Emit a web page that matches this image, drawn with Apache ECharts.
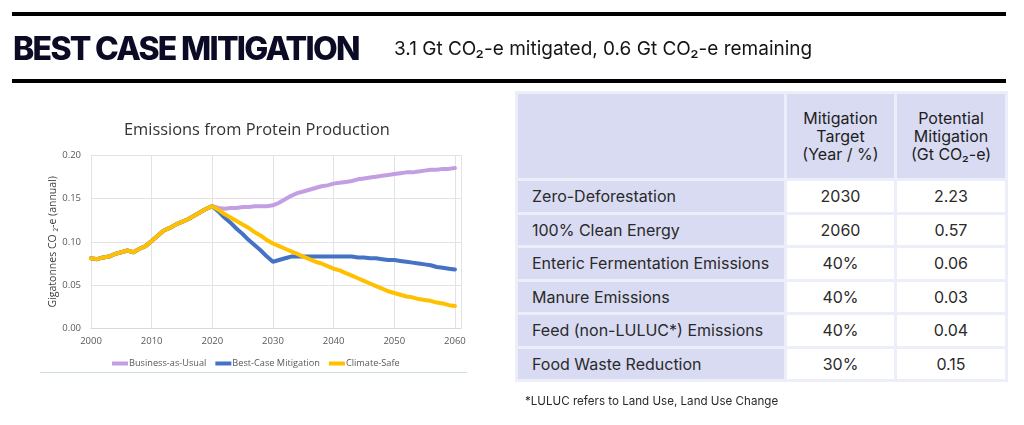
<!DOCTYPE html>
<html>
<head>
<meta charset="utf-8">
<script src="https://cdn.jsdelivr.net/npm/echarts@6/dist/echarts.min.js"></script>
<style>
  html, body { margin:0; padding:0; background:#fff; width:1024px; height:425px; overflow:hidden; }
  #chart { position:absolute; left:0; top:0; width:1024px; height:425px; }
  .rule { position:absolute; left:12px; width:994px; height:4px; background:#000; }
  #title { position:absolute; left:13px; top:29px; font-family:Inter, sans-serif; font-weight:800; font-size:32px; color:#0b0b25; letter-spacing:-1.7px; white-space:nowrap; }
  #subtitle { position:absolute; left:394px; top:37px; font-family:Inter, sans-serif; font-weight:400; font-size:19px; color:#151515; white-space:nowrap; }
  #tbl { position:absolute; left:515px; top:91px; border-collapse:separate; border-spacing:3px; background:#eceefa; font-family:Inter, sans-serif; color:#2a2a2a; }
  #tbl td, #tbl th { padding:0; font-weight:400; font-size:16px; }
  #tbl th { background:#d9dbf2; height:84px; line-height:18px; text-align:center; vertical-align:middle; color:#1e1e1e; }
  #tbl td { height:30.5px; line-height:18px; background:#fff; text-align:center; }
  #tbl td.lab { background:#d9dbf2; text-align:left; padding-left:14px; }
  #foot { position:absolute; left:525px; top:394px; font-family:Inter, sans-serif; font-size:11.6px; color:#2a2a2a; white-space:nowrap; }
  #frame { position:absolute; left:40px; top:372px; width:427px; height:1px; background:#cfe0d4; }
</style>
</head>
<body>
<div id="chart"></div>
<div class="rule" style="top:12px"></div>
<div class="rule" style="top:79px"></div>
<div id="title"></div>
<div id="subtitle"></div>
<table id="tbl"></table>
<div id="foot"></div>
<div id="frame"></div>
<script>
// ---------------- data ----------------
const pageTitle = 'BEST CASE MITIGATION';
const pageSubtitle = '3.1 Gt CO₂-e mitigated, 0.6 Gt CO₂-e remaining';
const chartTitle = 'Emissions from Protein Production';
const yAxisName = 'Gigatonnes CO ₂-e (annual)';
const seriesNames = ['Business-as-Usual', 'Best-Case Mitigation', 'Climate-Safe'];
const seriesColors = ['#c49ee3', '#4472c4', '#ffc000'];

const firstYear = 2000;
const lastYear = 2060;
const xTicks = [2000, 2010, 2020, 2030, 2040, 2050, 2060];
const yTicks = [0.00, 0.05, 0.10, 0.15, 0.20];

// shared history 2000-2020
const history = [0.081,0.080,0.082,0.083,0.086,0.088,0.090,0.088,0.092,0.095,
                 0.101,0.107,0.113,0.116,0.120,0.123,0.126,0.130,0.134,0.138,0.141];
// projections 2021-2060
const bauFuture = [0.139,0.138,0.139,0.139,0.140,0.140,0.141,0.141,0.141,0.142,
                   0.145,0.149,0.153,0.156,0.158,0.160,0.162,0.164,0.165,0.167,
                   0.168,0.169,0.170,0.172,0.173,0.174,0.175,0.176,0.177,0.178,
                   0.179,0.180,0.180,0.181,0.182,0.183,0.183,0.184,0.184,0.185];
const bestFuture = [0.135,0.128,0.122,0.115,0.109,0.102,0.096,0.090,0.083,0.077,
                    0.079,0.081,0.083,0.083,0.083,0.083,0.083,0.083,0.083,0.083,
                    0.083,0.083,0.083,0.082,0.082,0.081,0.081,0.080,0.079,0.079,
                    0.078,0.077,0.076,0.075,0.074,0.073,0.071,0.070,0.069,0.068];
const safeFuture = [0.137,0.132,0.128,0.124,0.120,0.116,0.111,0.107,0.102,0.098,
                    0.095,0.092,0.089,0.086,0.083,0.080,0.077,0.075,0.072,0.069,
                    0.067,0.064,0.061,0.058,0.055,0.052,0.049,0.046,0.043,0.041,
                    0.039,0.037,0.036,0.034,0.033,0.032,0.030,0.029,0.027,0.026];

// table
const tableHeaders = ['', 'Mitigation<br>Target<br>(Year / %)', 'Potential<br>Mitigation<br>(Gt CO₂-e)'];
const tableLevers = ['Zero-Deforestation', '100% Clean Energy', 'Enteric Fermentation Emissions',
                     'Manure Emissions', 'Feed (non-LULUC*) Emissions', 'Food Waste Reduction'];
const tableTargets = ['2030', '2060', '40%', '40%', '40%', '30%'];
const tableMitigation = ['2.23', '0.57', '0.06', '0.03', '0.04', '0.15'];
const footnote = '*LULUC refers to Land Use, Land Use Change';

// ---------------- page text / table ----------------
document.getElementById('title').textContent = pageTitle;
document.getElementById('subtitle').textContent = pageSubtitle;
document.getElementById('foot').textContent = footnote;
const colW = [266, 107, 108];
let html = '<tr>' + tableHeaders.map((h, i) => `<th style="width:${colW[i]}px">${h}</th>`).join('') + '</tr>';
tableLevers.forEach((lab, i) => {
  html += `<tr><td class="lab" style="width:${colW[0]-14}px">${lab}</td><td>${tableTargets[i]}</td><td>${tableMitigation[i]}</td></tr>`;
});
document.getElementById('tbl').innerHTML = html;

// ---------------- chart ----------------
const years = [];
for (let y = firstYear; y <= lastYear; y++) years.push(y);
const full = fut => history.concat(fut);
const seriesValues = [full(bauFuture), full(bestFuture), full(safeFuture)];

const chart = echarts.init(document.getElementById('chart'), null, { renderer: 'canvas' });
const font = '"Open Sans", sans-serif';
chart.setOption({
  animation: false,
  textStyle: { fontFamily: font },
  grid: { left: 91, top: 155, width: 370, height: 173.6, containLabel: false },
  graphic: [{
    type: 'text', left: 124, top: 122,
    style: { text: chartTitle, font: '16.4px "Open Sans", sans-serif', fill: '#333' }
  }],
  legend: {
    left: 107, top: 354, itemWidth: 16, itemHeight: 4, itemGap: 9, icon: 'rect',
    textStyle: { fontFamily: font, fontSize: 9.2, color: '#595959', padding: [0, 0, 0, -4] },
    data: seriesNames
  },
  xAxis: {
    type: 'value', min: firstYear, max: 2061, interval: 10,
    axisLine: { show: true, lineStyle: { color: '#d9d9d9' } },
    axisTick: { show: false },
    splitLine: { show: true, lineStyle: { color: '#e3e3e3', width: 1 } },
    axisLabel: {
      color: '#595959', fontSize: 9.5, margin: 8, fontFamily: font,
      formatter: v => xTicks.indexOf(v) >= 0 ? String(v) : ''
    }
  },
  yAxis: {
    type: 'value', min: 0, max: 0.2, interval: 0.05,
    name: yAxisName, nameLocation: 'middle', nameGap: 31, nameRotate: 90,
    nameTextStyle: { color: '#404040', fontSize: 10.5, fontFamily: font },
    axisLine: { show: false }, axisTick: { show: false },
    splitLine: { show: true, lineStyle: { color: '#e3e3e3', width: 1 } },
    axisLabel: {
      color: '#595959', fontSize: 9.5, margin: 10, fontFamily: font,
      formatter: v => yTicks.find(t => Math.abs(t - v) < 1e-9).toFixed(2)
    }
  },
  series: seriesNames.map((name, i) => ({
    name, type: 'line', showSymbol: false, symbol: 'none',
    data: years.map((y, j) => [y, seriesValues[i][j]]),
    lineStyle: { color: seriesColors[i], width: 4, join: 'round', cap: 'round' },
    itemStyle: { color: seriesColors[i] },
    z: 2 + i
  }))
});
</script>
</body>
</html>
